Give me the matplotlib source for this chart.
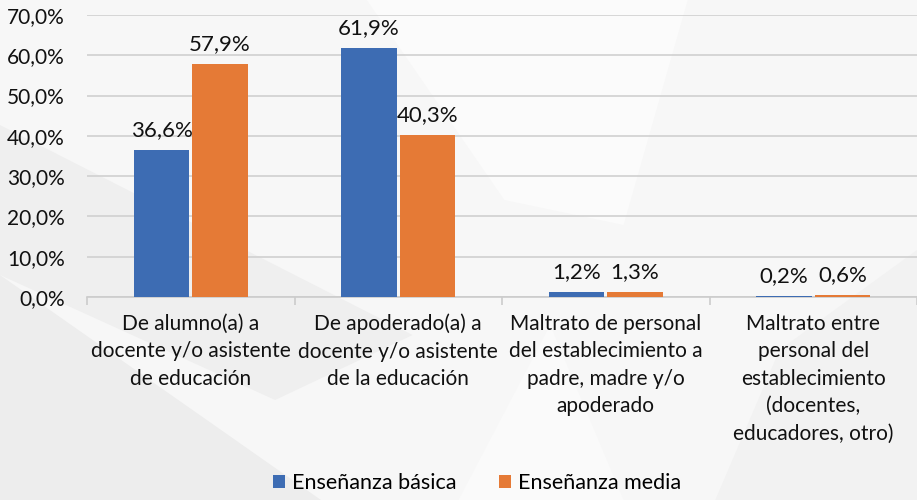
import matplotlib
matplotlib.use("Agg")
import matplotlib.pyplot as plt
import numpy as np
from matplotlib.patches import Polygon

categories = [
    "De alumno(a) a\ndocente y/o asistente\nde educación",
    "De apoderado(a) a\ndocente y/o asistente\nde la educación",
    "Maltrato de personal\ndel establecimiento a\npadre, madre y/o\napoderado",
    "Maltrato entre\npersonal del\nestablecimiento\n(docentes,\neducadores, otro)",
]
basica = [36.6, 61.9, 1.2, 0.2]
media = [57.9, 40.3, 1.3, 0.6]
series_names = ["Enseñanza básica", "Enseñanza media"]
yticks = [0, 10, 20, 30, 40, 50, 60, 70]

plt.rcParams['font.family'] = ['Lato', 'DejaVu Sans']

fig = plt.figure(figsize=(9.17, 5.0), dpi=100)
fig.patch.set_facecolor('#f7f7f7')

# decorative background shapes
bg = [
    ([(0, 0), (0.35, 0), (0.0, 0.45)], '#ededed'),
    ([(0, 0.45), (0.0, 0.75), (0.45, 0.33), (0.3, 0.2)], '#efefef'),
    ([(0.4, 1.0), (0.75, 1.0), (0.68, 0.55), (0.55, 0.6)], '#fbfbfb'),
    ([(0.78, 0.0), (1.0, 0.0), (1.0, 0.5), (0.85, 0.3)], '#f2f2f2'),
    ([(0.5, 0.0), (0.68, 0.0), (0.6, 0.35)], '#fafafa'),
]
for pts, c in bg:
    fig.patches.append(Polygon(pts, closed=True, transform=fig.transFigure,
                               facecolor=c, edgecolor='none', zorder=-10))

ax = fig.add_axes([87/917, 1-297/500, (917-87)/917, (297-15)/500])
ax.patch.set_alpha(0)

x = np.arange(len(categories))
w = 0.268
off = 0.141
blue = '#3d6cb3'
orange = '#e57a36'
b1 = ax.bar(x - off, basica, w, color=blue, label=series_names[0], zorder=3)
b2 = ax.bar(x + off, media, w, color=orange, label=series_names[1], zorder=3)

fmt = lambda v: f"{v:.1f}%".replace('.', ',')
for bars, vals in ((b1, basica), (b2, media)):
    for r, v in zip(bars, vals):
        ax.annotate(fmt(v), (r.get_x() + r.get_width()/2, v), xytext=(0, 7),
                    textcoords='offset points', ha='center', va='bottom',
                    fontsize=16, color='#111111')

ax.set_ylim(0, 70)
ax.set_xlim(-0.5, -0.5 + 830/209)
ax.set_yticks(yticks)
ax.set_yticklabels([f"{t:.1f}%".replace('.', ',') for t in yticks], fontsize=15, color='#111111')
ax.yaxis.grid(True, color='#d0d0d0', linewidth=1.2, zorder=0)
ax.set_axisbelow(True)
ax.tick_params(axis='y', length=0, pad=16)

ax.set_xticks(x)
ax.set_xticklabels(categories, fontsize=15, color='#111111', linespacing=1.47)
ax.tick_params(axis='x', length=0, pad=12)
ax.set_xticks(np.arange(-0.5, 4, 1), minor=True)
ax.tick_params(axis='x', which='minor', length=6, color='#cccccc', width=1.2)

for s in ['top', 'right', 'left']:
    ax.spines[s].set_visible(False)
ax.spines['bottom'].set_color('#cccccc')
ax.spines['bottom'].set_linewidth(1.2)

fig.legend(handles=[b1, b2], labels=series_names, loc='center', bbox_to_anchor=(477/917, 1-483/500),
           ncol=2, frameon=False, fontsize=15.5, handlelength=0.55, handleheight=0.55,
           columnspacing=2.0, handletextpad=0.3)

fig.savefig('out.png', dpi=100, facecolor=fig.get_facecolor())
